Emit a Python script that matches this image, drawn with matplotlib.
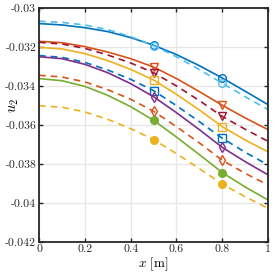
import numpy as np
import matplotlib
matplotlib.use("Agg")
import matplotlib.pyplot as plt

plt.rcParams['font.family'] = 'cmr10'
plt.rcParams['mathtext.fontset'] = 'cm'
plt.rcParams['axes.unicode_minus'] = False

x = [0, 0.1, 0.2, 0.3, 0.4, 0.5, 0.6, 0.7, 0.8, 0.9, 1.0]

# values in units of 1e-3
b_solid = [-30.80, -30.87, -31.01, -31.21, -31.52, -31.91, -32.39, -32.96, -33.59, -34.27, -34.96]
lb_dash = [-30.68, -30.74, -30.87, -31.11, -31.47, -31.93, -32.50, -33.16, -33.86, -34.55, -35.21]
o_solid = [-31.71, -31.78, -31.98, -32.26, -32.60, -33.03, -33.62, -34.29, -34.99, -35.64, -36.24]
r_dash = [-31.76, -31.85, -32.07, -32.41, -32.82, -33.32, -34.00, -34.75, -35.56, -36.22, -36.84]
y_solid = [-32.02, -32.10, -32.34, -32.70, -33.15, -33.69, -34.43, -35.23, -36.09, -36.77, -37.38]
b_dash = [-32.44, -32.53, -32.79, -33.18, -33.66, -34.24, -35.01, -35.83, -36.68, -37.40, -38.05]
p_solid = [-32.50, -32.60, -32.89, -33.32, -33.88, -34.55, -35.37, -36.24, -37.15, -37.88, -38.56]
o_dash = [-33.45, -33.54, -33.79, -34.19, -34.68, -35.30, -36.09, -36.92, -37.81, -38.48, -39.08]
g_solid = [-33.62, -33.73, -34.02, -34.48, -35.06, -35.76, -36.62, -37.52, -38.44, -39.18, -39.85]
y_dash = [-35.01, -35.09, -35.33, -35.71, -36.19, -36.75, -37.47, -38.24, -39.03, -39.68, -40.27]

marker_idx = [5, 8]

xticks = [0, 0.2, 0.4, 0.6, 0.8, 1]
xticklabels = ['0', '0.2', '0.4', '0.6', '0.8', '1']
yticks = [-0.03, -0.032, -0.034, -0.036, -0.038, -0.04, -0.042]
yticklabels = ['-0.03', '-0.032', '-0.034', '-0.036', '-0.038', '-0.04', '-0.042']

series = [
    (b_solid, '#0072BD', '-', 'o', 'none'),
    (lb_dash, '#4DBEEE', '--', 'o', 'none'),
    (o_solid, '#D95319', '-', 'v', 'none'),
    (r_dash, '#A2142F', '--', 'v', 'none'),
    (y_solid, '#EDB120', '-', 's', 'none'),
    (b_dash, '#0072BD', '--', 's', 'none'),
    (p_solid, '#7E2F8E', '-', 'd', 'none'),
    (o_dash, '#D95319', '--', 'd', 'none'),
    (g_solid, '#77AC30', '-', 'o', 'fill'),
    (y_dash, '#EDB120', '--', 'o', 'fill'),
]

fig = plt.figure(figsize=(2.75, 2.75), dpi=100)
ax = fig.add_axes([0.142, 0.12, 0.833, 0.851])

xa = np.array(x)
for vals, col, ls, mk, fill in series:
    ya = np.array(vals) * 1e-3
    line, = ax.plot(xa, ya, color=col, linestyle=ls, linewidth=1.2,
                    marker=mk, markevery=marker_idx, markersize=5.5,
                    markerfacecolor=(col if fill == 'fill' else 'none'),
                    markeredgecolor=col, markeredgewidth=1.0)
    if ls == '--':
        line.set_dashes((4, 3))

ax.set_xlim(0, 1)
ax.set_ylim(-0.042, -0.03)
ax.set_xticks(xticks)
ax.set_xticklabels(xticklabels)
ax.set_yticks(yticks)
ax.set_yticklabels(yticklabels)
ax.tick_params(direction='in', length=3, width=1.0, top=True, right=True,
               labelsize=8.5, colors='#262626', pad=2)
ax.grid(True, color='#e6e6e6', linewidth=0.9)
ax.set_axisbelow(True)
for s in ax.spines.values():
    s.set_linewidth(1.3)
    s.set_color('#262626')
ax.set_xlabel(r'$x$ [m]', fontsize=9.5, labelpad=1)
ax.set_ylabel(r'$u_2$', fontsize=10.5)
ax.yaxis.set_label_coords(-0.078, 0.585)

fig.savefig('out.png', dpi=100)
